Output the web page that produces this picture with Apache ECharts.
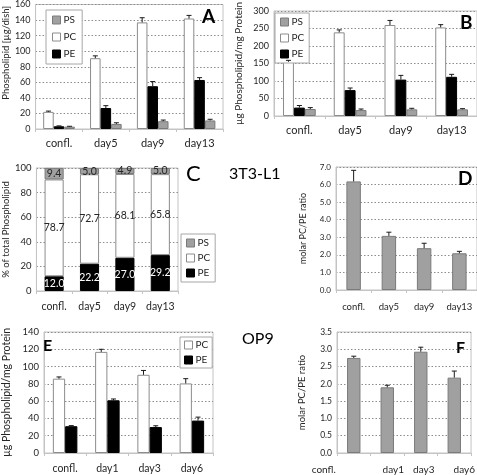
<!DOCTYPE html>
<html><head><meta charset="utf-8">
<script src="https://cdn.jsdelivr.net/npm/echarts@6/dist/echarts.min.js"></script>
<style>html,body{margin:0;padding:0;background:#fff}#c{width:477px;height:475px}</style>
</head><body><div id="c"></div>
<script>
const cats1 = ['confl.', 'day5', 'day9', 'day13'];
const cats2 = ['confl.', 'day1', 'day3', 'day6'];

const A_PC = [22, 91, 137, 142], A_PC_err = [1, 3, 6, 4];
const A_PE = [3.5, 27, 55, 63], A_PE_err = [0.5, 3, 6, 3];
const A_PS = [3, 6.5, 10, 11], A_PS_err = [0.5, 1.5, 1.5, 1.5];

const B_PC = [155, 239, 260, 253], B_PC_err = [4, 7, 13, 8];
const B_PE = [24, 74, 104, 112], B_PE_err = [6, 6, 12, 7];
const B_PS = [20, 17, 19, 19], B_PS_err = [4, 3, 3, 2];

const C_PE = [12.0, 22.2, 27.0, 29.2];
const C_PC = [78.7, 72.7, 68.1, 65.8];
const C_PS = [9.4, 5.0, 4.9, 5.0];

const D_ratio = [6.18, 3.08, 2.38, 2.09], D_err = [0.63, 0.21, 0.28, 0.11];

const E_PC = [86, 117, 90.5, 80.5], E_PC_err = [2, 3, 5, 5.5];
const E_PE = [31, 61, 30, 37.5], E_PE_err = [0.7, 1.5, 1.5, 4];

const F_ratio = [2.75, 1.9, 2.93, 2.18], F_err = [0.05, 0.06, 0.13, 0.19];

const FONT = 'Lato';
const TXT = '#262626';
const GRAY = '#a0a0a0';
const styles = {
  PC: { color: '#ffffff', borderColor: '#8c8c8c', borderWidth: 1 },
  PE: { color: '#000000', borderColor: '#000000', borderWidth: 1 },
  PS: { color: GRAY, borderColor: '#7a7a7a', borderWidth: 1 }
};

function errRender(n, idx, frac) {
  return function (params, api) {
    const x = api.value(0), v = api.value(1), e = api.value(2);
    const b = api.coord([x, v]);
    const t = api.coord([x, v + e]);
    const bw = api.size([1, 0])[0];
    const cx = b[0] + (idx - (n - 1) / 2) * bw * frac;
    const st = { stroke: '#1a1a1a', lineWidth: 1 };
    return { type: 'group', children: [
      { type: 'line', shape: { x1: cx, y1: b[1], x2: cx, y2: t[1] }, style: st },
      { type: 'line', shape: { x1: cx - 2.5, y1: t[1], x2: cx + 2.5, y2: t[1] }, style: st }
    ] };
  };
}
function errSeries(ax, vals, errs, n, idx, frac) {
  return {
    type: 'custom', xAxisIndex: ax, yAxisIndex: ax, z: 10, silent: true,
    renderItem: errRender(n, idx, frac),
    encode: { x: 0, y: 1 },
    data: vals.map((v, i) => [i, v, errs[i]])
  };
}
function bar(ax, name, vals, w, extra) {
  return Object.assign({
    type: 'bar', name: name, xAxisIndex: ax, yAxisIndex: ax,
    data: vals, barWidth: w, barGap: '0%', itemStyle: styles[name]
  }, extra || {});
}

const grids = [
  { left: 34, top: 4, width: 189, height: 125 },
  { left: 274, top: 11, width: 206, height: 105 },
  { left: 30, top: 168, width: 148, height: 123 },
  { left: 336, top: 167, width: 143, height: 123 },
  { left: 39, top: 332, width: 174, height: 121 },
  { left: 337, top: 332, width: 142, height: 121 }
].map(g => Object.assign({ show: true, borderColor: '#c4c4c4', borderWidth: 1, backgroundColor: '#fff' }, g));

function xAx(gi, cats, fs, margin, extraLabel) {
  return {
    type: 'category', gridIndex: gi, data: cats,
    axisLine: { lineStyle: { color: '#c4c4c4' } },
    axisTick: { show: true, length: 3, interval: 0, lineStyle: { color: '#c4c4c4' } },
    axisLabel: Object.assign({ fontFamily: FONT, fontSize: fs, color: TXT, margin: margin, interval: 0, hideOverlap: false }, extraLabel || {})
  };
}
function yAx(gi, max, interval, name, gap, dec, fs, nameFs, namePad) {
  return {
    type: 'value', gridIndex: gi, min: 0, max: max, interval: interval,
    name: name, nameLocation: 'middle', nameGap: gap,
    nameTextStyle: { fontFamily: FONT, fontSize: nameFs, color: TXT, padding: namePad || 0 },
    axisLine: { show: true, lineStyle: { color: '#c4c4c4' } },
    axisTick: { show: false },
    axisLabel: { fontFamily: FONT, fontSize: fs, color: TXT, margin: 5,
      formatter: v => dec ? v.toFixed(1) : String(v) },
    splitLine: { show: true, lineStyle: { color: '#8c8c8c', type: [1.5, 2], width: 1 } }
  };
}

const legendBase = {
  orient: 'vertical', borderColor: '#a6a6a6', borderWidth: 1, backgroundColor: '#fff',
  itemWidth: 8, itemHeight: 8, icon: 'rect', selectedMode: false,
  textStyle: { fontFamily: FONT, fontSize: 10, color: TXT, padding: [0, 0, 0, -2] }
};
const legendData3 = [
  { name: 'PS', itemStyle: styles.PS },
  { name: 'PC', itemStyle: styles.PC },
  { name: 'PE', itemStyle: styles.PE }
];

function ttl(text, left, top, fs, bold) {
  return { text: text, left: left, top: top, padding: 0,
    textStyle: { fontFamily: FONT, fontSize: fs, fontWeight: bold ? 'bold' : 'normal', color: '#000' } };
}

const fRich = {
  c0: { padding: [0, 60, 0, 0] },
  c1: { padding: [0, 0, 0, 12] },
  c2: { padding: [0, 0, 0, 6] },
  c3: { padding: [0, 0, 0, 20] }
};

const option = {
  animation: false,
  backgroundColor: '#fff',
  title: [
    ttl('A', 202, 7, 19, true),
    ttl('B', 460, 13, 19, true),
    ttl('C', 186, 163, 22, false),
    ttl('3T3-L1', 229, 166, 16, false),
    ttl('D', 458, 169, 19, true),
    ttl('E', 43, 338, 16, true),
    ttl('OP9', 242, 331, 16, false),
    ttl('F', 456, 340, 16, true)
  ],
  legend: [
    Object.assign({}, legendBase, { left: 46, top: 10, padding: [5, 6, 5, 6], itemGap: 7, data: legendData3 }),
    Object.assign({}, legendBase, { left: 275, top: 13, padding: [4, 5, 4, 5], itemGap: 6, data: legendData3 }),
    Object.assign({}, legendBase, { left: 181, top: 234, padding: [4, 5, 4, 5], itemGap: 5, data: legendData3 }),
    Object.assign({}, legendBase, { left: 180, top: 337, padding: [3, 4, 3, 4], itemGap: 5,
      data: [{ name: 'PC', itemStyle: styles.PC }, { name: 'PE', itemStyle: styles.PE }] })
  ],
  grid: grids,
  xAxis: [
    xAx(0, cats1, 11, 9),
    xAx(1, cats1, 11, 9),
    xAx(2, cats1, 10.5, 10),
    xAx(3, cats1, 9.5, 12),
    xAx(4, cats2, 10.5, 10),
    xAx(5, cats2, 10, 12, { formatter: (v, i) => '{c' + i + '|' + v + '}', rich: fRich })
  ],
  yAxis: [
    yAx(0, 160, 20, 'Phospholipid [µg/dish]', 24, false, 9, 9.5, [0, 0, 0, 28]),
    yAx(1, 300, 50, 'µg Phospholipid/mg Protein', 30, false, 9, 10),
    yAx(2, 100, 20, '% of total Phospholipid', 21, false, 9.5, 9.5),
    yAx(3, 7, 1, 'molar PC/PE ratio', 28, true, 8, 9),
    yAx(4, 140, 20, 'µg Phospholipid/mg Protein', 32, false, 9.5, 10.5),
    yAx(5, 3.5, 0.5, 'molar PC/PE ratio', 30, true, 8.5, 9.5)
  ],
  series: [
    bar(0, 'PC', A_PC, '22.5%'), bar(0, 'PE', A_PE, '22.5%'), bar(0, 'PS', A_PS, '22.5%'),
    errSeries(0, A_PC, A_PC_err, 3, 0, 0.225), errSeries(0, A_PE, A_PE_err, 3, 1, 0.225), errSeries(0, A_PS, A_PS_err, 3, 2, 0.225),

    bar(1, 'PC', B_PC, '21.5%'), bar(1, 'PE', B_PE, '21.5%'), bar(1, 'PS', B_PS, '21.5%'),
    errSeries(1, B_PC, B_PC_err, 3, 0, 0.215), errSeries(1, B_PE, B_PE_err, 3, 1, 0.215), errSeries(1, B_PS, B_PS_err, 3, 2, 0.215),

    bar(2, 'PE', C_PE, '54%', { stack: 'c', label: { show: true, position: 'inside', color: '#fff', fontFamily: FONT, fontSize: 10.5, formatter: p => p.value.toFixed(1) } }),
    bar(2, 'PC', C_PC, '54%', { stack: 'c', label: { show: true, position: 'inside', color: TXT, fontFamily: FONT, fontSize: 10.5, formatter: p => p.value.toFixed(1) } }),
    bar(2, 'PS', C_PS, '54%', { stack: 'c', label: { show: true, position: 'inside', color: TXT, fontFamily: FONT, fontSize: 10.5, formatter: p => p.value.toFixed(1) } }),

    bar(3, 'PS', D_ratio, '41%', { name: 'ratioD', itemStyle: styles.PS }),
    errSeries(3, D_ratio, D_err, 1, 0, 0.41),

    bar(4, 'PC', E_PC, '29%'), bar(4, 'PE', E_PE, '29%'),
    errSeries(4, E_PC, E_PC_err, 2, 0, 0.29), errSeries(4, E_PE, E_PE_err, 2, 1, 0.29),

    bar(5, 'PS', F_ratio, '40%', { name: 'ratioF', itemStyle: styles.PS }),
    errSeries(5, F_ratio, F_err, 1, 0, 0.40)
  ]
};
const chart = echarts.init(document.getElementById('c'), null, { renderer: 'canvas' });
chart.setOption(option);
</script></body></html>
